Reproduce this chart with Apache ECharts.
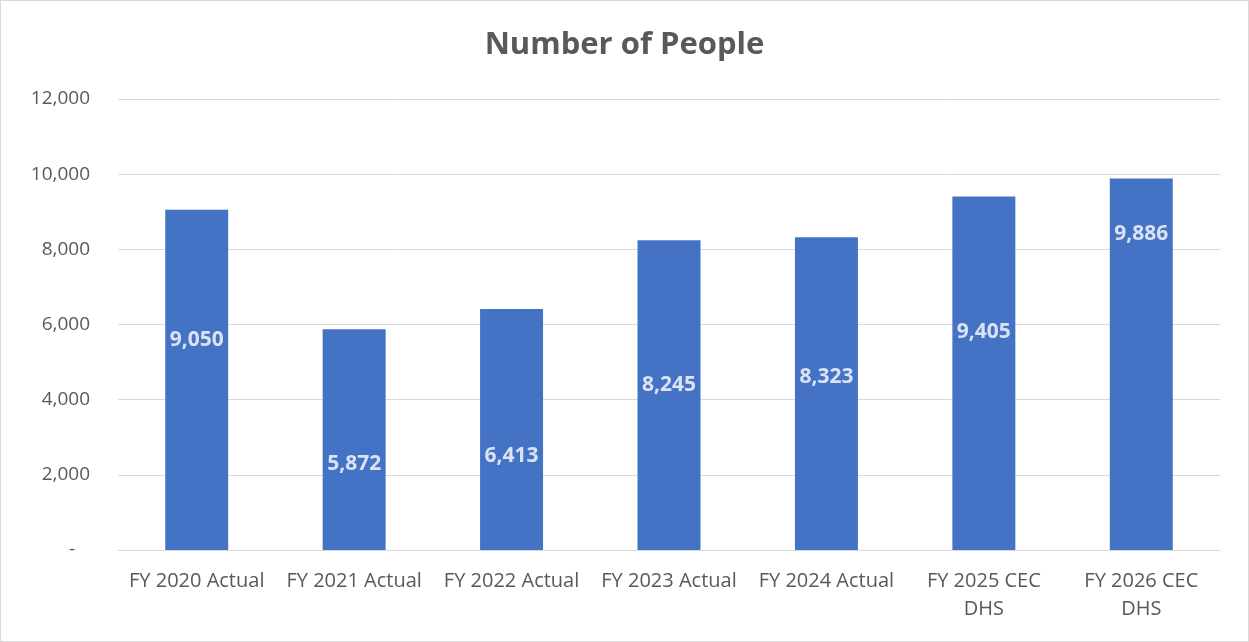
<!DOCTYPE html>
<html>
<head>
<meta charset="utf-8">
<script src="https://cdn.jsdelivr.net/npm/echarts@6/dist/echarts.min.js"></script>
<style>
html,body{margin:0;padding:0;background:#fff;}
#c{width:1249px;height:642px;box-sizing:border-box;border:1px solid #d9d9d9;}
</style>
</head>
<body>
<div id="c"></div>
<script>
const categories = ['FY 2020 Actual','FY 2021 Actual','FY 2022 Actual','FY 2023 Actual','FY 2024 Actual','FY 2025 CEC\nDHS','FY 2026 CEC\nDHS'];
const people = [9050, 5872, 6413, 8245, 8323, 9405, 9886];
// vertical level (in axis units) at which each data label sits in the reference
const labelLevels = [5600, 2300, 2500, 4400, 4600, 5800, 8400];
const yTicks = [0, 2000, 4000, 6000, 8000, 10000, 12000];

const FONT = '"Open Sans", "Noto Sans", sans-serif';
const chart = echarts.init(document.getElementById('c'), null, {renderer:'canvas'});
chart.setOption({
  animation:false,
  backgroundColor:'#ffffff',
  title:{
    text:'Number of People', left:'center', top:24,
    textStyle:{fontFamily:FONT, fontSize:31, fontWeight:'bold', color:'#595959'}
  },
  grid:{left:117, right:28, top:98, bottom:91, containLabel:false},
  xAxis:{
    type:'category', data:categories,
    axisLine:{show:true, lineStyle:{color:'#d9d9d9', width:1}},
    axisTick:{show:false},
    axisLabel:{fontFamily:FONT, fontSize:20, color:'#595959', margin:17, lineHeight:28, interval:0}
  },
  yAxis:{
    type:'value', min:yTicks[0], max:yTicks[yTicks.length-1], interval:2000,
    axisLine:{show:false}, axisTick:{show:false},
    splitLine:{lineStyle:{color:'#d9d9d9', width:1}},
    axisLabel:{
      fontFamily:FONT, fontSize:19, color:'#595959', margin:28,
      formatter:function(v){ return v===0 ? '-   ' : v.toLocaleString('en-US'); }
    }
  },
  series:[
    {
      type:'bar', data:people, barWidth:'40%',
      itemStyle:{color:'#4472c4'},
      z:2
    },
    {
      type:'scatter',
      data:labelLevels.map(function(v,i){return [i, v];}),
      symbolSize:0,
      z:5,
      label:{
        show:true, position:'inside',
        fontFamily:FONT, fontSize:21, fontWeight:'bold', color:'#ffffff',
        formatter:function(p){ return people[p.dataIndex].toLocaleString('en-US'); }
      },
      tooltip:{show:false}
    }
  ]
});
</script>
</body>
</html>
